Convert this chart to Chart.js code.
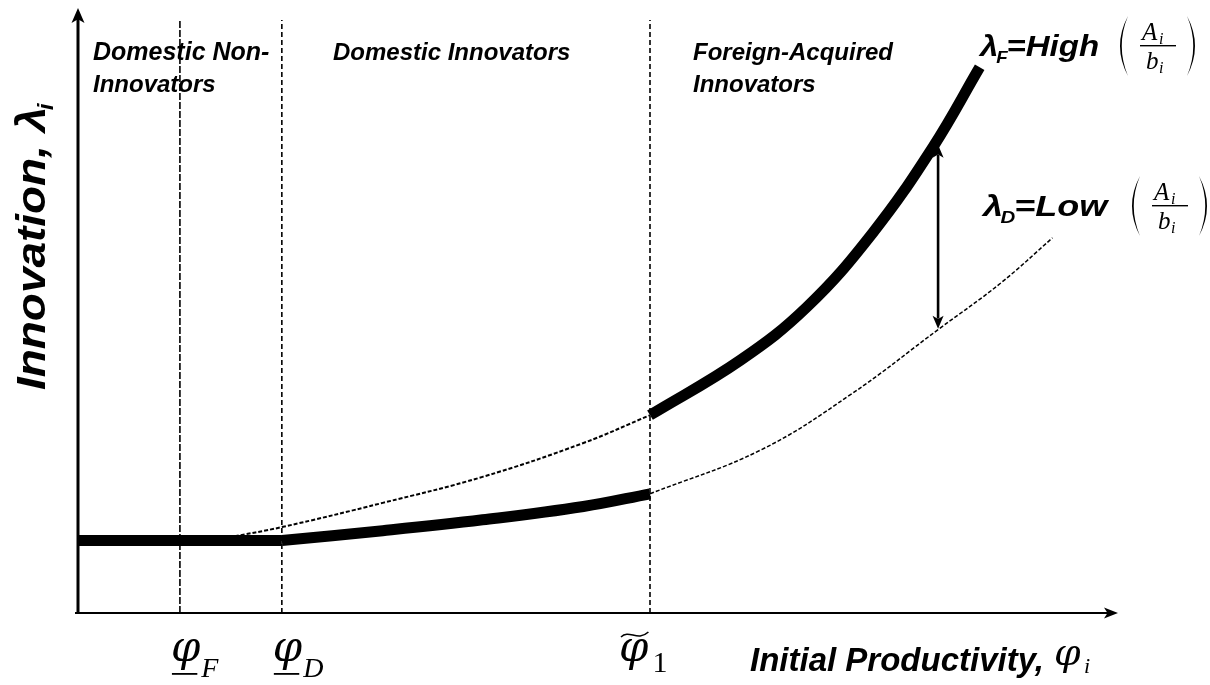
<!DOCTYPE html>
<html>
<head>
<meta charset="utf-8">
<script src="https://cdn.jsdelivr.net/npm/chart.js@4.4.1/dist/chart.umd.min.js"></script>
<style>
  html, body { margin: 0; padding: 0; background: #fff; }
  canvas { display: block; }
</style>
</head>
<body>
<canvas id="chart" width="1210" height="685"></canvas>
<script>
// Productivity thresholds separating the three firm regimes
const thresholdX = [0.98, 1.96, 5.5];
const thresholdSubs = ['F', 'D', '1'];
const thresholdAccent = ['underline', 'underline', 'tilde'];

// Innovation of non-innovating firms (flat segment)
const flatX = [0.0, 1.96];
const flatY = [1.2, 1.2];

// Innovation under domestic ownership
const domesticX = [1.96, 2.93, 3.89, 4.86, 5.5, 6.56, 7.42, 8.29, 8.87, 9.37];
const domesticY = [1.2, 1.36, 1.54, 1.76, 1.97, 2.69, 3.60, 4.71, 5.45, 6.20];

// Innovation under foreign ownership
const foreignX = [1.45, 1.96, 2.93, 3.89, 4.86, 5.5, 6.37, 7.01, 7.64, 8.22, 8.67];
const foreignY = [1.25, 1.42, 1.82, 2.25, 2.81, 3.27, 4.18, 5.06, 6.28, 7.70, 9.02];

// Gap between the two curves
const gapX = [8.27, 8.27];
const gapY = [4.70, 7.74];

// Text
const regionNames = [['Domestic Non-', 'Innovators'], ['Domestic Innovators'], ['Foreign-Acquired', 'Innovators']];
const curveNames = [['F', '=High'], ['D', '=Low']];
const xTitle = 'Initial Productivity,';
const yTitle = 'Innovation, ';

const toPts = (xs, ys) => xs.map((x, i) => ({ x, y: ys[i] }));
const cut = thresholdX[2];
const domesticPts = toPts(domesticX, domesticY);
const foreignPts = toPts(foreignX, foreignY);
const flatPts = toPts(flatX, flatY);
const domesticSolid = domesticPts.filter(p => p.x <= cut);
const domesticDashed = domesticPts.filter(p => p.x >= cut);
const foreignDashed = foreignPts.filter(p => p.x <= cut);
const foreignSolid = foreignPts.filter(p => p.x >= cut);

const SANS = '"Liberation Sans", Arial, sans-serif';
const SERIF = '"DejaVu Serif", "Liberation Serif", serif';
const MATH = '"Liberation Serif", "DejaVu Serif", serif';

const thick = { borderColor: '#000', borderWidth: 11, borderCapStyle: 'butt', tension: 0.4, pointRadius: 0, fill: false };
const thin = { borderColor: '#000', borderWidth: 1.6, borderDash: [4, 2], tension: 0.4, pointRadius: 0, fill: false };

const vlineSets = thresholdX.map((x, i) => ({
  data: [{ x, y: 0 }, { x, y: 9.8 }],
  borderColor: '#000', borderWidth: 1.6,
  borderDash: i === 0 ? [7, 2] : [5, 3],
  pointRadius: 0, fill: false, tension: 0
}));

function head(ctx, tx, ty, dx, dy, len, hw) {
  const nx = -dy, ny = dx;
  ctx.beginPath();
  ctx.moveTo(tx, ty);
  ctx.lineTo(tx - dx * len + nx * hw, ty - dy * len + ny * hw);
  ctx.lineTo(tx - dx * len * 0.75, ty - dy * len * 0.75);
  ctx.lineTo(tx - dx * len - nx * hw, ty - dy * len - ny * hw);
  ctx.closePath();
  ctx.fill();
}

function paren(ctx, x, top, bot, dir) {
  const mid = (top + bot) / 2;
  ctx.beginPath();
  ctx.moveTo(x, top);
  ctx.quadraticCurveTo(x - dir * 16, mid, x, bot);
  ctx.quadraticCurveTo(x - dir * 12.5, mid, x, top);
  ctx.fill();
}

function fraction(ctx, x, y) {
  // x: left of opening paren, y: fraction bar
  paren(ctx, x + 11, y - 30, y + 30, 1);
  ctx.textAlign = 'left';
  ctx.font = 'italic 25px ' + MATH;
  ctx.fillText('A', x + 25, y - 6);
  ctx.font = 'italic 16px ' + MATH;
  ctx.fillText('i', x + 42, y - 2);
  ctx.fillRect(x + 23, y - 1, 36, 1.4);
  ctx.font = 'italic 25px ' + MATH;
  ctx.fillText('b', x + 29, y + 23);
  ctx.font = 'italic 16px ' + MATH;
  ctx.fillText('i', x + 42, y + 27);
  paren(ctx, x + 70, y - 30, y + 30, -1);
}

const decorations = {
  id: 'decorations',
  beforeDatasetsDraw(chart) {
    const { ctx, scales: { x, y } } = chart;
    const x0 = x.getPixelForValue(0), x1 = x.getPixelForValue(10);
    const y0 = y.getPixelForValue(0), y1 = y.getPixelForValue(10);
    ctx.save();
    ctx.strokeStyle = '#000';
    ctx.fillStyle = '#000';
    ctx.lineWidth = 2.2;
    ctx.beginPath();
    ctx.moveTo(x0 - 3, y0);
    ctx.lineTo(x1 - 8, y0);
    ctx.stroke();
    head(ctx, x1, y0, 1, 0, 14, 5.5);
    ctx.lineWidth = 3;
    ctx.beginPath();
    ctx.moveTo(x0, y0 + 1);
    ctx.lineTo(x0, y1 + 8);
    ctx.stroke();
    head(ctx, x0, y1, 0, -1, 15, 6.5);
    ctx.restore();
  },
  afterDatasetsDraw(chart) {
    const { ctx, scales: { x, y } } = chart;
    ctx.save();
    ctx.fillStyle = '#000';
    ctx.strokeStyle = '#000';

    // gap arrow between curves
    const gx = x.getPixelForValue(gapX[0]);
    const gTop = y.getPixelForValue(gapY[1]);
    const gBot = y.getPixelForValue(gapY[0]);
    ctx.lineWidth = 2.6;
    ctx.beginPath();
    ctx.moveTo(gx, gTop + 10);
    ctx.lineTo(gx, gBot - 10);
    ctx.stroke();
    head(ctx, gx, gTop, 0, -1, 13, 5.5);
    head(ctx, gx, gBot, 0, 1, 13, 5.5);

    // region labels
    ctx.textAlign = 'left';
    ctx.textBaseline = 'alphabetic';
    const regionPos = [[93, 60], [333, 60], [693, 60]];
    regionNames.forEach((lines, i) => {
      lines.forEach((t, j) => {
        ctx.font = 'italic bold ' + (i === 0 && j === 0 ? 25 : 24) + 'px ' + SANS;
        ctx.fillText(t, regionPos[i][0], regionPos[i][1] + j * 32);
      });
    });

    // curve labels
    const curvePos = [[980, 56], [983, 216]];
    const curveStretch = [1.1, 1.2];
    curveNames.forEach(([sub, rest], i) => {
      const [cx0, cy] = curvePos[i];
      ctx.save();
      ctx.translate(cx0, cy);
      ctx.scale(curveStretch[i], 1);
      let cx = 0;
      ctx.font = 'italic bold 30px ' + SANS;
      ctx.fillText('λ', cx, 0);
      cx += ctx.measureText('λ').width - 2;
      ctx.font = 'italic bold 17px ' + SANS;
      ctx.fillText(sub, cx, 7);
      cx += ctx.measureText(sub).width - 1;
      ctx.font = 'italic bold 30px ' + SANS;
      ctx.fillText(rest, cx, 0);
      ctx.restore();
    });
    fraction(ctx, 1117, 46);
    fraction(ctx, 1129, 206);

    // threshold labels under the axis
    thresholdX.forEach((v, i) => {
      const px = x.getPixelForValue(v);
      const tilde = thresholdAccent[i] === 'tilde';
      const left = tilde ? px - 31 : px - 9;
      const base = 661;
      ctx.font = 'italic 42px ' + SERIF;
      ctx.fillText('φ', left, base);
      const w = ctx.measureText('φ').width;
      if (!tilde) {
        ctx.fillRect(left + 1, base + 12, w - 4, 1.8);
        ctx.font = 'italic 28px ' + MATH;
        ctx.fillText(thresholdSubs[i], left + w + 1, base + 16);
      } else {
        ctx.lineWidth = 1.6;
        ctx.beginPath();
        const tx = left + 2, ty = 634, tw = w - 2;
        ctx.moveTo(tx, ty + 3);
        ctx.bezierCurveTo(tx + tw * 0.3, ty - 5, tx + tw * 0.6, ty + 8, tx + tw, ty - 2);
        ctx.stroke();
        ctx.font = '30px ' + MATH;
        ctx.fillText(thresholdSubs[i], left + w + 4, base + 11);
      }
    });

    // axis titles
    ctx.font = 'italic bold 33px ' + SANS;
    ctx.fillText(xTitle, 750, 671);
    ctx.font = 'italic 38px ' + SERIF;
    ctx.fillText('φ', 1054, 665);
    ctx.font = 'italic 22px ' + MATH;
    ctx.fillText('i', 1084, 673);

    ctx.save();
    ctx.translate(45, 390);
    ctx.rotate(-Math.PI / 2);
    ctx.scale(1.12, 1);
    ctx.font = 'italic bold 41px ' + SANS;
    ctx.fillText(yTitle, 0, 0);
    let w = ctx.measureText(yTitle).width;
    ctx.fillText('λ', w, 0);
    w += ctx.measureText('λ').width;
    ctx.font = 'italic bold 22px ' + SANS;
    ctx.fillText('i', w - 3, 8);
    ctx.restore();

    ctx.restore();
  }
};

new Chart(document.getElementById('chart'), {
  type: 'line',
  data: {
    datasets: [
      ...vlineSets,
      { ...thin, data: foreignDashed, borderWidth: 2.0 },
      { ...thin, data: domesticDashed, borderWidth: 1.5 },
      { ...thick, data: flatPts, tension: 0 },
      { ...thick, data: domesticSolid },
      { ...thick, data: foreignSolid }
    ]
  },
  options: {
    responsive: false,
    devicePixelRatio: 1,
    animation: false,
    layout: { padding: { left: 78, right: 92, top: 8, bottom: 72 } },
    scales: {
      x: { type: 'linear', min: 0, max: 10, display: false },
      y: { type: 'linear', min: 0, max: 10, display: false }
    },
    plugins: { legend: { display: false }, tooltip: { enabled: false } }
  },
  plugins: [decorations]
});
</script>
</body>
</html>
